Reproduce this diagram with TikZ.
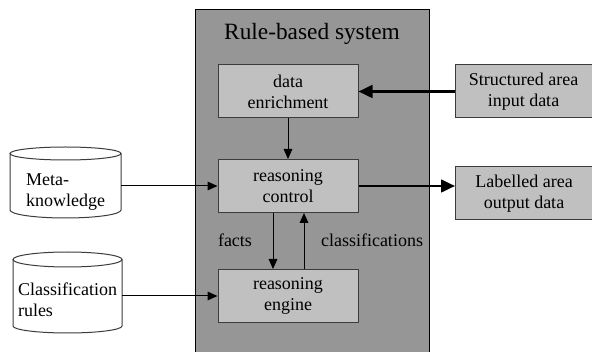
\documentclass[tikz,border=0pt]{standalone}
\usepackage{fontspec}
\setmainfont{Liberation Serif}
\usetikzlibrary{arrows.meta}
\definecolor{panelgray}{RGB}{150,150,150}
\definecolor{boxgray}{RGB}{192,192,192}
\definecolor{edgegray}{RGB}{60,60,60}
\begin{document}
\begin{tikzpicture}[x=0.75pt,y=0.75pt,yscale=-1,xscale=1,
	box/.style={draw=edgegray,line width=0.75pt,fill=boxgray,minimum width=105pt,minimum height=39.75pt,inner sep=0pt,align=center,font=\fontsize{13.5}{15.75}\selectfont},
	sidebox/.style={box,minimum width=102.75pt},
	dbtext/.style={inner sep=0pt,minimum width=83.25pt,font=\fontsize{13.5}{15.75}\selectfont},
	db/.style={draw=edgegray,line width=0.75pt},
	lbl/.style={inner sep=0pt,font=\fontsize{13.5}{15.75}\selectfont},
	arr/.style={-{Triangle[length=7.5pt,width=6.5pt]},line width=0.75pt},
	bigarr/.style={-{Triangle[length=10.5pt,width=9.5pt]},line width=2pt}]
	\path[use as bounding box,fill=white] (0,0) rectangle (592,352);
	\fill[panelgray] (195,10) rectangle (429,352);
	\draw[line width=0.75pt] (195,352) -- (195,10) -- (429,10) -- (429,352);
	\node[lbl,font=\fontsize{17.5}{20}\selectfont] (title) at (312,34) {Rule-based system};
	\node[box] (enrich) at (288,91.5) {data\\enrichment};
	\node[box] (control) at (288,186) {reasoning\\control};
	\node[box] (engine) at (288,296) {reasoning\\engine};
	\node[sidebox] (input) at (523.5,91.5) {Structured area\\input data};
	\node[sidebox] (output) at (524,193.5) {Labelled area\\output data};
	\draw[db] (65.5,153.5) ellipse [x radius=55.5,y radius=6.5];
	\draw[db] (10,153.5) -- (10,210) arc [start angle=180,end angle=0,x radius=55.5,y radius=8] -- (121,153.5);
	\draw[db] (67.5,259.5) ellipse [x radius=54.5,y radius=7.5];
	\draw[db] (13,259.5) -- (13,326) arc [start angle=180,end angle=0,x radius=54.5,y radius=7] -- (122,259.5);
	\node[dbtext] (meta) at (65.5,192) {\begin{tabular}{@{}l@{}}Meta-\\knowledge\end{tabular}};
	\node[dbtext,minimum width=81.75pt] (rules) at (67.5,302) {\begin{tabular}{@{}l@{}}Classification\\rules\end{tabular}};
	\node[lbl] (factslbl) at (235,240) {facts};
	\node[lbl] (classlbl) at (372,240) {classifications};
	\draw[arr] (enrich) -- (control);
	\draw[arr] ([xshift=-11.25pt]control.south) -- ([xshift=-11.25pt]engine.north);
	\draw[arr] ([xshift=12pt]engine.north) -- ([xshift=12pt]control.south);
	\draw[arr] (meta.east |- control.west) -- (control.west);
	\draw[arr] (rules.east |- engine.west) -- (engine.west);
	\draw[bigarr] (input) -- (enrich);
	\draw[bigarr] (control.east) -- (control.east -| output.west);
\end{tikzpicture}
\end{document}
